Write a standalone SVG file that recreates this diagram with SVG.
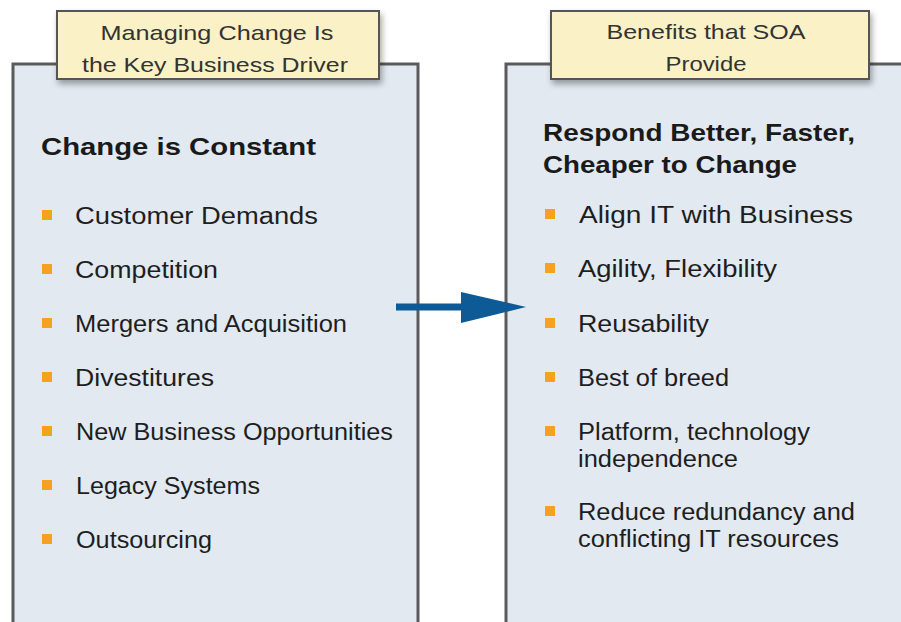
<svg xmlns="http://www.w3.org/2000/svg" width="901" height="622" viewBox="0 0 901 622">
  <style>
    .panel { fill: #e2e9f1; stroke: #5a5a5a; stroke-width: 3; }
    .tag { fill: #fbf1c6; stroke: #555; stroke-width: 2; }
    .tagtxt { font-family: "Liberation Sans", Arial, sans-serif; font-size: 21px; fill: #333; text-anchor: middle; }
    .head { font-family: "Liberation Sans", Arial, sans-serif; font-size: 24px; font-weight: bold; fill: #1a1a1a; }
    .item { font-family: "Liberation Sans", Arial, sans-serif; font-size: 23px; fill: #1e1e1e; }
    .bullet { fill: #f5a21f; }
  </style>
  <defs>
    <filter id="shadow" x="-10%" y="-20%" width="125%" height="160%">
      <feDropShadow dx="2" dy="4" stdDeviation="3" flood-color="#000" flood-opacity="0.35"/>
    </filter>
  </defs>
  <rect width="901" height="622" fill="#ffffff"/>

  <!-- left panel: drivers of change -->
  <g id="drivers">
    <path class="panel" d="M13,640 V64 H418 V640 Z"/>
    <rect class="tag" x="57" y="11" width="322" height="68" filter="url(#shadow)"/>
    <text class="tagtxt" x="217" y="40" textLength="233" lengthAdjust="spacingAndGlyphs">Managing Change Is</text>
    <text class="tagtxt" x="215" y="72" textLength="266" lengthAdjust="spacingAndGlyphs">the Key Business Driver</text>
    <text class="head" x="41" y="155" textLength="275" lengthAdjust="spacingAndGlyphs">Change is Constant</text>
    <rect class="bullet" x="42" y="210" width="10" height="10"/>
    <text class="item" x="75" y="224" textLength="243" lengthAdjust="spacingAndGlyphs">Customer Demands</text>
    <rect class="bullet" x="42" y="264" width="10" height="10"/>
    <text class="item" x="75" y="278" textLength="143" lengthAdjust="spacingAndGlyphs">Competition</text>
    <rect class="bullet" x="42" y="318" width="10" height="10"/>
    <text class="item" x="75" y="332" textLength="272" lengthAdjust="spacingAndGlyphs">Mergers and Acquisition</text>
    <rect class="bullet" x="42" y="372" width="10" height="10"/>
    <text class="item" x="75" y="386" textLength="139" lengthAdjust="spacingAndGlyphs">Divestitures</text>
    <rect class="bullet" x="42" y="426" width="10" height="10"/>
    <text class="item" x="76" y="440" textLength="317" lengthAdjust="spacingAndGlyphs">New Business Opportunities</text>
    <rect class="bullet" x="42" y="480" width="10" height="10"/>
    <text class="item" x="76" y="494" textLength="184" lengthAdjust="spacingAndGlyphs">Legacy Systems</text>
    <rect class="bullet" x="42" y="534" width="10" height="10"/>
    <text class="item" x="76" y="548" textLength="136" lengthAdjust="spacingAndGlyphs">Outsourcing</text>
  </g>

  <!-- right panel: benefits -->
  <g id="benefits">
    <path class="panel" d="M506,640 V64 H920 V640 Z"/>
    <rect class="tag" x="551" y="11" width="318" height="68" filter="url(#shadow)"/>
    <text class="tagtxt" x="706" y="39" textLength="199" lengthAdjust="spacingAndGlyphs">Benefits that SOA</text>
    <text class="tagtxt" x="706" y="71" textLength="81" lengthAdjust="spacingAndGlyphs">Provide</text>
    <text class="head" x="543" y="141" textLength="312" lengthAdjust="spacingAndGlyphs">Respond Better, Faster,</text>
    <text class="head" x="543" y="173" textLength="254" lengthAdjust="spacingAndGlyphs">Cheaper to Change</text>
    <rect class="bullet" x="545" y="209" width="10" height="10"/>
    <text class="item" x="579" y="223" textLength="274" lengthAdjust="spacingAndGlyphs">Align IT with Business</text>
    <rect class="bullet" x="545" y="263" width="10" height="10"/>
    <text class="item" x="578" y="277" textLength="199" lengthAdjust="spacingAndGlyphs">Agility, Flexibility</text>
    <rect class="bullet" x="545" y="318" width="10" height="10"/>
    <text class="item" x="578" y="332" textLength="131" lengthAdjust="spacingAndGlyphs">Reusability</text>
    <rect class="bullet" x="545" y="372" width="10" height="10"/>
    <text class="item" x="578" y="386" textLength="151" lengthAdjust="spacingAndGlyphs">Best of breed</text>
    <rect class="bullet" x="545" y="426" width="10" height="10"/>
    <text class="item" x="578" y="440" textLength="232" lengthAdjust="spacingAndGlyphs">Platform, technology</text>
    <text class="item" x="578" y="467" textLength="160" lengthAdjust="spacingAndGlyphs">independence</text>
    <rect class="bullet" x="545" y="506" width="10" height="10"/>
    <text class="item" x="578" y="520" textLength="277" lengthAdjust="spacingAndGlyphs">Reduce redundancy and</text>
    <text class="item" x="578" y="547" textLength="261" lengthAdjust="spacingAndGlyphs">conflicting IT resources</text>
  </g>

  <!-- connector -->
  <g id="connectors">
    <line x1="396" y1="307" x2="465" y2="307" stroke="#0d5a96" stroke-width="7"/>
    <polygon points="461,292 526,307 461,323" fill="#0d5a96"/>
  </g>
</svg>
